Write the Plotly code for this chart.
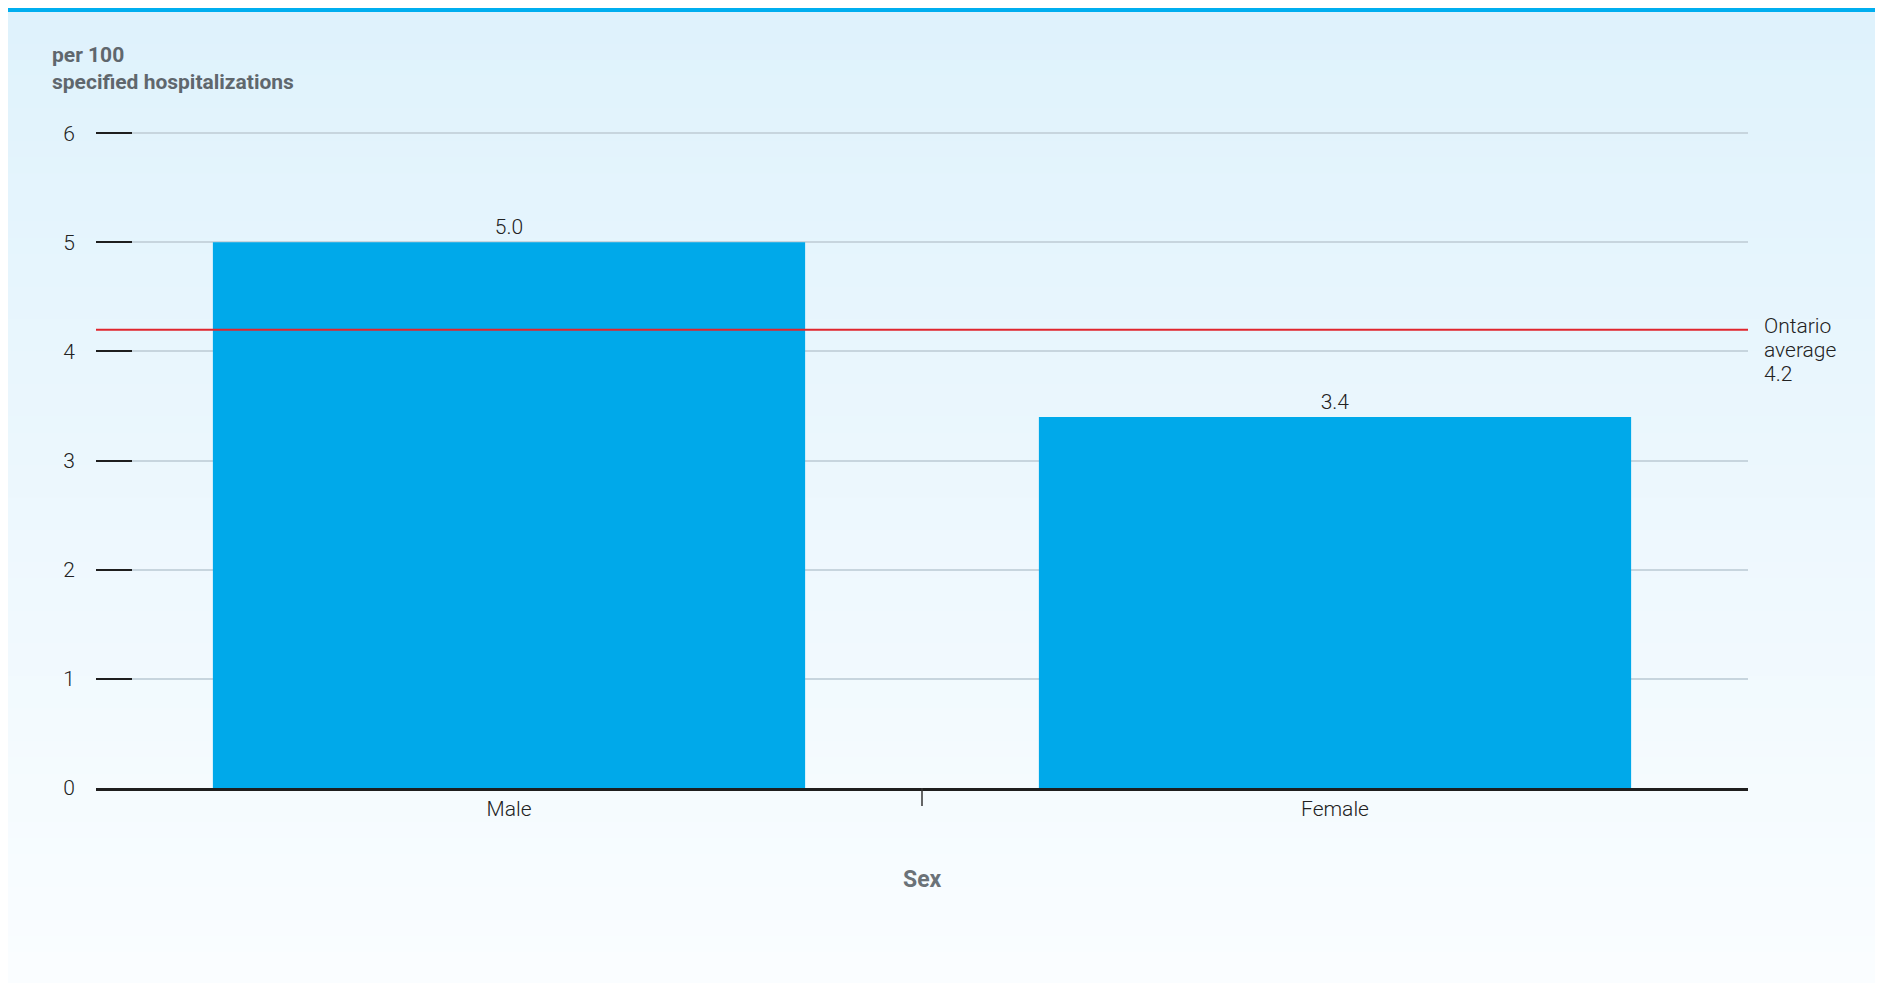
import plotly.graph_objects as go

categories = ["Male", "Female"]
values = [5.0, 3.4]
value_labels = ["5.0", "3.4"]
ontario_avg = 4.2
ontario_lines = ["Ontario", "average", "4.2"]
y_ticks = [0, 1, 2, 3, 4, 5, 6]
y_top = 6.02

W, H = 1867, 975
L, R, B = 88, 1740, 780
unit = 655 / 6
pw = R - L
ph = round(y_top * unit)
T = B - ph

def px_x(p):
    return (p - L) / pw

def px_y(p):
    return (B - p) / ph

FONT = "Roboto"

fig = go.Figure()
fig.add_trace(go.Bar(
    x=categories, y=values, text=value_labels, textposition="outside",
    marker=dict(color="#00a9ea", line=dict(width=0)),
    textfont=dict(family=FONT, size=21, color="#222222", weight=300),
    cliponaxis=False, hoverinfo="skip",
))

shapes = []
top_c = (223, 242, 252)
bot_c = (250, 253, 255)
n = 60
y_start, y_end = 3, 976
for i in range(n):
    f = i / (n - 1)
    c = tuple(round(top_c[k] + (bot_c[k] - top_c[k]) * f) for k in range(3))
    ya = y_start + (y_end - y_start) * i / n
    yb = y_start + (y_end - y_start) * (i + 1) / n + 1
    shapes.append(dict(type="rect", xref="paper", yref="paper", layer="below",
                       x0=px_x(-1), x1=px_x(1871), y0=px_y(ya), y1=px_y(yb),
                       fillcolor="rgb(%d,%d,%d)" % c, line=dict(width=0)))
shapes.append(dict(type="rect", xref="paper", yref="paper", layer="below",
                   x0=px_x(-1), x1=px_x(1871), y0=px_y(-1), y1=px_y(4),
                   fillcolor="#00aeef", line=dict(width=0)))
shapes.append(dict(type="line", xref="paper", yref="y", x0=0, x1=1,
                   y0=ontario_avg, y1=ontario_avg,
                   line=dict(color="#e0262d", width=2)))
# category divider tick below the axis
shapes.append(dict(type="line", xref="x", yref="paper", x0=0.5, x1=0.5,
                   y0=0, y1=-18 / ph, line=dict(color="#333333", width=1.5)))

annotations = []
for i, t in enumerate(ontario_lines):
    annotations.append(dict(text=t, xref="paper", yref="y", x=1, y=ontario_avg,
                            xanchor="left", yanchor="middle", xshift=14,
                            yshift=-(i * 24) + 4, showarrow=False, align="left",
                            font=dict(family=FONT, size=21, color="#222222", weight=300)))
annotations += [
    dict(text="<b>per 100<br>specified hospitalizations</b>", xref="paper", yref="paper",
         x=px_x(42), y=px_y(33), xanchor="left", yanchor="top", showarrow=False,
         align="left", font=dict(family=FONT, size=21, color="#5f676d")),
    dict(text="<b>Sex</b>", xref="paper", yref="paper",
         x=0.5, y=px_y(871), xanchor="center", yanchor="middle", showarrow=False,
         font=dict(family=FONT, size=23, color="#6b7278")),
]

fig.update_layout(
    width=W, height=H,
    margin=dict(l=L, r=W - R, t=T, b=H - B, autoexpand=False),
    paper_bgcolor="white", plot_bgcolor="rgba(0,0,0,0)",
    showlegend=False, bargap=0.283,
    shapes=shapes, annotations=annotations,
    font=dict(family=FONT, color="#222222"),
)
fig.update_yaxes(
    range=[0, y_top], tickvals=y_ticks, showgrid=True, gridcolor="#c7d5de", gridwidth=2,
    zeroline=False, showline=False, ticks="inside", ticklen=36, tickwidth=2,
    tickcolor="#1e1e1e", ticklabelstandoff=20,
    tickfont=dict(family=FONT, size=21, color="#222222", weight=300), fixedrange=True,
)
fig.update_xaxes(
    showline=True, linecolor="#1e1e1e", linewidth=3, showgrid=False, ticks="",
    tickfont=dict(family=FONT, size=21, color="#222222", weight=300), fixedrange=True,
)

fig.write_html("out.html")
